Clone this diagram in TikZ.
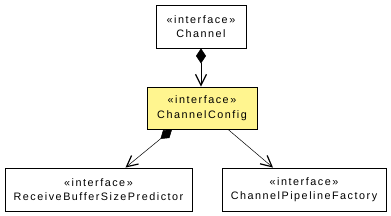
\documentclass[tikz,border=0pt]{standalone}
\usepackage{fontspec}
\setmainfont{Liberation Sans}[LetterSpace=14]
\usetikzlibrary{arrows.meta}
\definecolor{cfgyellow}{RGB}{255,245,143}
\tikzset{
  umlbox/.style={draw=black, line width=0.8pt, fill=white, minimum height=43pt, inner sep=0pt, align=center, font=\fontsize{10.8}{14.5}\selectfont},
  hilite/.style={umlbox, fill=cfgyellow},
  compose/.style={line width=0.5pt, {Diamond[length=15pt,width=10pt]}-{Straight Barb[length=11pt,width=11pt,line width=1.2pt]}},
  depend/.style={line width=0.5pt, -{Straight Barb[length=11pt,width=11pt,line width=1.2pt]}}
}
\begin{document}
\begin{tikzpicture}[x=1pt,y=-1pt]
\useasboundingbox (0,0) rectangle (391,216);
\node[umlbox, minimum width=90pt] (chan) at (201,26.5) {«interface»\\Channel};
\node[hilite, minimum width=110pt, minimum height=42pt] (cfg) at (202,108) {«interface»\\ChannelConfig};
\node[umlbox, minimum width=187pt] (rbsp) at (98.5,189.5) {«interface»\\ReceiveBufferSizePredictor};
\node[umlbox, minimum width=164pt] (cpf) at (304,189.5) {«interface»\\ChannelPipelineFactory};
\draw[compose] (chan.south -| 201,0) -- (cfg.north -| 201,0);
\draw[compose] ([xshift=-30pt]cfg.south) -- ([xshift=27pt]rbsp.north);
\draw[depend] ([xshift=26pt]cfg.south) -- ([xshift=-31pt]cpf.north);
\end{tikzpicture}
\end{document}
